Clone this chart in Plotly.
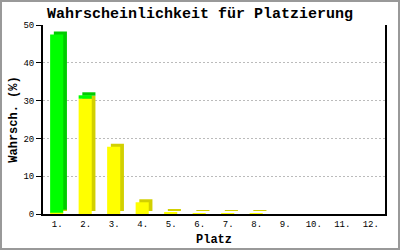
import plotly.graph_objects as go

categories = ["1.", "2.", "3.", "4.", "5.", "6.", "7.", "8.", "9.", "10.", "11.", "12."]
yellow_vals = [0.3, 30.5, 17.8, 3.1, 0.5, 0.1, 0.1, 0.1, 0, 0, 0, 0]
green_vals = [47.2, 0.9, 0, 0, 0, 0, 0, 0, 0, 0, 0, 0]
y_ticks = [0, 10, 20, 30, 40, 50]

title_text = "Wahrscheinlichkeit für Platzierung"
x_title = "Platz"
y_title = "Wahrsch. (%)"

FONT = "Liberation Mono, DejaVu Sans Mono, monospace"
BAR_W = 0.46      # front face width (category units)
DX = 0.13         # depth shift in x (category units)
DY = 0.8          # depth shift in y (data units)
OFF = -0.25       # front face offset

series = [
    ("yellow", yellow_vals, "#FFFF00", "#D2D000"),
    ("green", green_vals, "#00FF00", "#00CC00"),
]

fig = go.Figure()
base = [0.0] * len(categories)
for name, vals, front, side in series:
    visible = [v > 0 for v in vals]
    xs = [c for c, ok in zip(categories, visible) if ok]
    b = [bb for bb, ok in zip(base, visible) if ok]
    v = [vv for vv, ok in zip(vals, visible) if ok]
    fig.add_trace(go.Bar(
        x=xs, y=v, base=[bb + DY for bb in b],
        offset=OFF + DX, width=BAR_W,
        marker=dict(color=side, line=dict(width=0)),
        hoverinfo="skip", showlegend=False,
    ))
    fig.add_trace(go.Bar(
        x=xs, y=v, base=b,
        offset=OFF, width=BAR_W,
        marker=dict(color=front, line=dict(width=0)),
        showlegend=False, name=name,
    ))
    base = [bb + vv for bb, vv in zip(base, vals)]

fig.update_layout(
    width=400, height=250,
    margin=dict(l=43, r=15, t=25, b=36, autoexpand=False),
    paper_bgcolor="white", plot_bgcolor="white",
    barmode="overlay",
    font=dict(family=FONT, color="black", size=9),
    title=dict(text="<b>" + title_text + "</b>", x=0.5, xanchor="center",
               xref="container",
               y=1 - 13 / 250, yanchor="middle", automargin=False,
               font=dict(family=FONT, size=15, color="black")),
    xaxis=dict(
        type="category", categoryorder="array", categoryarray=categories,
        showline=True, linecolor="black", linewidth=2,
        showgrid=False, ticks="", tickfont=dict(size=9), automargin=False,
        title=dict(text="<b>" + x_title + "</b>", font=dict(size=12), standoff=6),
        range=[-0.5, 11.5],
    ),
    yaxis=dict(
        range=[0, 50], tickvals=y_ticks, automargin=False,
        showline=True, linecolor="black", linewidth=2, mirror=True,
        ticks="outside", ticklen=5, tickcolor="black", tickwidth=1,
        showgrid=True, gridcolor="#BBBBBB", griddash="2px,2px", gridwidth=1,
        zeroline=False, tickfont=dict(size=9),
        title=dict(text="<b>" + y_title + "</b>", font=dict(size=12), standoff=3),
    ),
    shapes=[dict(type="rect", xref="paper", yref="paper",
                 x0=-42 / 342, x1=1 + 14 / 342, y0=-35 / 189, y1=1 + 24 / 189,
                 line=dict(color="#999999", width=2), fillcolor="rgba(0,0,0,0)",
                 layer="below")],
)

fig.write_html("out.html")
